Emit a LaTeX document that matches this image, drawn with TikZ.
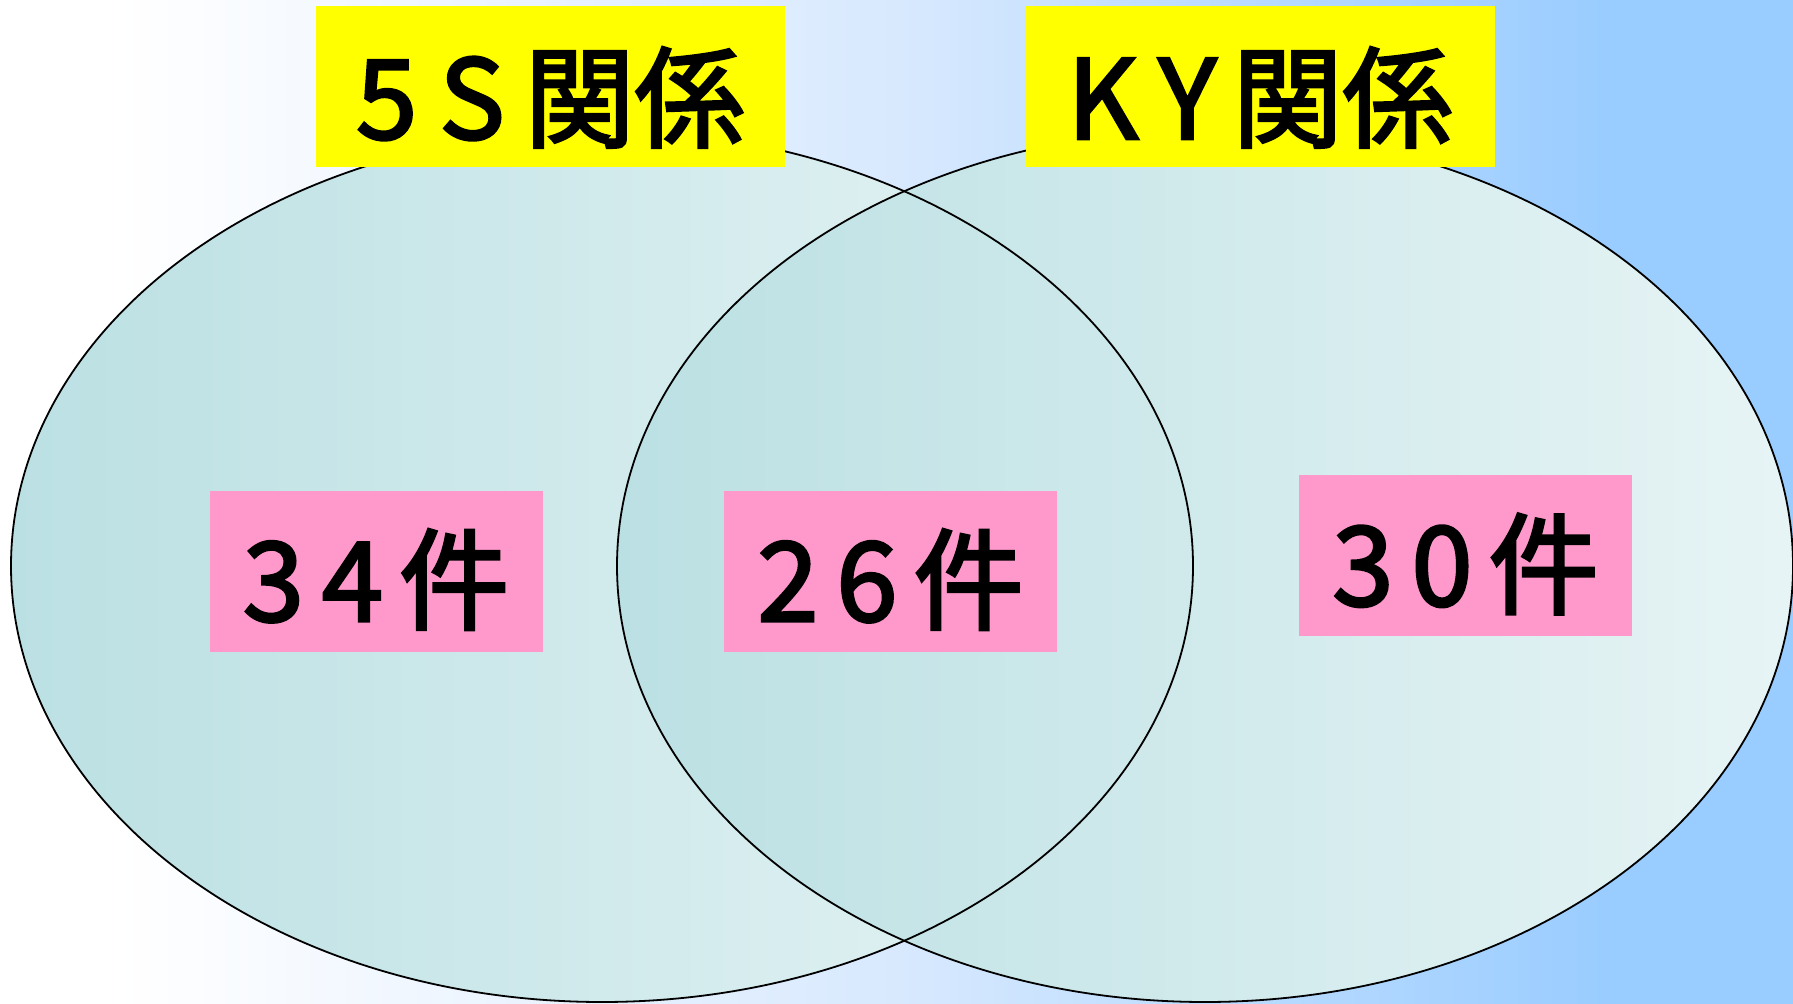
\documentclass[tikz,border=0pt]{standalone}
\usepackage{fontspec}
\newfontfamily\jp[FakeBold=2.6]{Noto Sans CJK JP}
\usetikzlibrary{shapes.geometric}
\definecolor{bgblue}{RGB}{153,204,255}
\definecolor{bgmid}{RGB}{216,233,254}
\definecolor{ellL}{RGB}{187,224,227}
\definecolor{ellR}{RGB}{231,244,245}
\definecolor{pinkbox}{RGB}{255,153,204}
\definecolor{yellowbox}{RGB}{255,255,0}
\pgfdeclarehorizontalshading{bgshade}{100bp}{
  color(0bp)=(white); color(28.2bp)=(white); color(50bp)=(bgmid); color(70bp)=(bgblue); color(100bp)=(bgblue)}
\tikzset{
  titlebox/.style={fill=yellowbox, inner sep=0pt, minimum width=234.5pt, minimum height=80.5pt, font=\jp\fontsize{55pt}{60pt}\selectfont, text depth=0pt},
  countbox/.style={fill=pinkbox, inner sep=0pt, minimum width=166.5pt, minimum height=80.5pt, font=\jp\fontsize{55pt}{60pt}\selectfont},
  setfill/.style={left color=ellL, right color=ellR},
  setline/.style={draw=black, line width=0.9pt}
}
\begin{document}
\begin{tikzpicture}[x=0.5pt, y=-0.5pt]
\useasboundingbox (0,0) rectangle (1793,1004);
\shade[shading=bgshade] (0,0) rectangle (1793,1004);
\coordinate (cA) at (602,566);
\coordinate (cB) at (1205,566);
% set fills
\path[setfill] (cA) ellipse [x radius=591, y radius=436];
\path[setfill] (cB) ellipse [x radius=588, y radius=436];
% outlines
\draw[setline] (cA) ellipse [x radius=591, y radius=436];
\draw[setline] (cB) ellipse [x radius=588, y radius=436];
% titles
\node[titlebox] (t5s) at (550.5,87) {\raisebox{-6pt}{5\kern11pt S\kern10pt 関係}};
\node[titlebox] (tky) at (1260,87) {\raisebox{-6pt}{K\kern10pt Y\kern8pt 関係}};
% counts
\node[countbox] (n34) at (376,571.5) {\raisebox{-4pt}[\height][\depth]{3\kern9pt 4\kern8pt 件}};
\node[countbox] (n26) at (890.5,571.5) {\raisebox{-4pt}[\height][\depth]{2\kern9pt 6\kern8pt 件}};
\node[countbox] (n30) at (1465.5,556) {\raisebox{-4pt}[\height][\depth]{3\kern9pt 0\kern8pt 件}};
\end{tikzpicture}
\end{document}
